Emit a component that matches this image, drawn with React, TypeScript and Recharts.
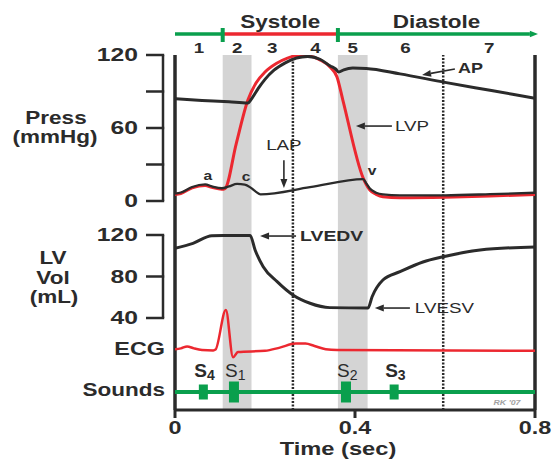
import React from 'react';
import {
  ComposedChart,
  Line,
  Scatter,
  XAxis,
  YAxis,
  ReferenceArea,
  ReferenceLine,
  ReferenceDot,
} from 'recharts';

// one cardiac cycle, time in seconds
const aorticPressure: [number, number][] = [
  [0, 84], [0.06, 82.7], [0.12, 81.5], [0.162, 80.5], [0.172, 85], [0.185, 92.5], [0.2, 100],
  [0.22, 107.5], [0.245, 113.5], [0.27, 117.5], [0.295, 118.8], [0.322, 116.5], [0.345, 111],
  [0.357, 108.5], [0.364, 106], [0.375, 107.8], [0.395, 109.3], [0.425, 109], [0.5, 104.5],
  [0.6, 97.5], [0.7, 91], [0.8, 84.5],
];
const ventricularPressure: [number, number][] = [
  [0, 5.3], [0.013, 6.2], [0.038, 10.8], [0.067, 12.8], [0.082, 11.2], [0.104, 9.6], [0.111, 10.2],
  [0.136, 47], [0.162, 83], [0.18, 97], [0.2, 106], [0.225, 113], [0.25, 117.5], [0.275, 119.5],
  [0.3, 119], [0.322, 116], [0.345, 110], [0.36, 102], [0.373, 83], [0.418, 19], [0.425, 13.5],
  [0.433, 9], [0.447, 5.5], [0.462, 3.5], [0.5, 2.7], [0.6, 3.1], [0.7, 4.1], [0.8, 5.4],
];
const atrialPressure: [number, number][] = [
  [0, 6], [0.013, 7], [0.038, 11.5], [0.067, 13.6], [0.082, 12], [0.104, 10.5], [0.12, 12],
  [0.138, 14], [0.155, 13.5], [0.168, 11], [0.18, 7.5], [0.19, 5.5], [0.3, 11.4], [0.418, 18],
  [0.425, 14.5], [0.433, 10.2], [0.447, 6.8], [0.462, 5.4], [0.5, 4.6], [0.6, 4.7], [0.7, 5.6],
  [0.8, 6.8],
];
const ventricularVolume: [number, number][] = [
  [0, 107.3], [0.04, 112], [0.082, 119.3], [0.107, 119.5], [0.167, 119.5], [0.178, 105.5],
  [0.196, 89.5], [0.227, 75], [0.262, 62.2], [0.3, 54.2], [0.344, 50], [0.429, 49.6],
  [0.438, 60.5], [0.462, 76.6], [0.5, 84.6], [0.551, 94], [0.596, 99], [0.678, 105.5], [0.8, 108.5],
];
const ecgTrace: [number, number][] = [
  [0, 0.02], [0.013, 0.04], [0.027, 0.09], [0.042, 0.04], [0.06, 0], [0.085, -0.01], [0.09, 0.01],
  [0.113, 1], [0.129, -0.18], [0.14, -0.05], [0.2, -0.02], [0.233, 0.06], [0.268, 0.16],
  [0.29, 0.16], [0.31, 0.1], [0.335, 0.02], [0.36, 0], [0.8, -0.02],
];
const heartSounds = [
  { sub: '4', t: 0.063, strong: false },
  { sub: '1', t: 0.131, strong: true },
  { sub: '2', t: 0.38, strong: true },
  { sub: '3', t: 0.487, strong: false },
];

const phaseEdges = [0, 0.106, 0.17, 0.262, 0.362, 0.428, 0.596, 0.8];
const phaseNames = ['1', '2', '3', '4', '5', '6', '7'];
const shadedPhases = [1, 4];
const dottedEdges = [3, 6];
const timeTicks = [0, 0.4, 0.8];
const pressureTicks = [0, 30, 60, 90, 120];
const pressureLabels = [0, 60, 120];
const volumeTicks = [40, 80, 120];

const INK = '#2b2b2b';
const RED = '#ec2830';
const GREEN = '#0a9f4d';
const SHADE = '#d4d4d4';
const FONT = '"Liberation Sans", Arial, sans-serif';

const W = 554;
const H = 459;
const TOP = 55;
const BOTTOM = 410;
const LEFT = 175;
const RIGHT = 535;
const T_MAX = 0.8;

// domain for a hidden axis so that v0 sits at pixel y0 and v1 at pixel y1
function span(v0: number, y0: number, v1: number, y1: number): [number, number] {
  const k = (y0 - y1) / (v1 - v0);
  return [v0 - (BOTTOM - y0) / k, v0 + (y0 - TOP) / k];
}
// page x (for things in the margins) expressed on the time axis
const tx = (x: number) => ((x - LEFT) / (RIGHT - LEFT)) * T_MAX;

const pts = (a: [number, number][]) => a.map(([t, v]) => ({ t, v }));

function Txt({ x, y, text, size = 16, weight = 700, anchor = 'middle', fill = INK, sx = 1.25, italic = false }: any) {
  return (
    <g transform={`translate(${x},${y}) scale(${sx},1)`}>
      <text
        textAnchor={anchor}
        dominantBaseline="central"
        fontSize={size}
        fontWeight={weight}
        fontStyle={italic ? 'italic' : 'normal'}
        fill={fill}
        fontFamily={FONT}
      >
        {text}
      </text>
    </g>
  );
}

function note(key: string, x: number, y: number, yAxisId: string, text: string, style: any = {}) {
  return (
    <ReferenceDot
      key={key}
      x={x}
      y={y}
      yAxisId={yAxisId}
      r={0}
      ifOverflow="visible"
      shape={(p: any) => <Txt x={p.cx} y={p.cy} text={text} {...style} />}
    />
  );
}

function arrowShape(color: string, width: number, head: number) {
  return (p: any) => {
    const { x1, y1, x2, y2 } = p;
    const a = Math.atan2(y2 - y1, x2 - x1);
    const len = head * 1.8;
    const bx = x2 - len * Math.cos(a);
    const by = y2 - len * Math.sin(a);
    const nx = -Math.sin(a) * head * 0.7;
    const ny = Math.cos(a) * head * 0.7;
    return (
      <g>
        <line x1={x1} y1={y1} x2={bx} y2={by} stroke={color} strokeWidth={width} />
        <polygon points={`${x2},${y2} ${bx + nx},${by + ny} ${bx - nx},${by - ny}`} fill={color} />
      </g>
    );
  };
}

function pointer(key: string, from: [number, number], to: [number, number], yAxisId: string) {
  return (
    <ReferenceLine
      key={key}
      yAxisId={yAxisId}
      segment={[{ x: from[0], y: from[1] }, { x: to[0], y: to[1] }]}
      ifOverflow="visible"
      shape={arrowShape(INK, 1.6, 5)}
    />
  );
}

function SoundMark(p: any) {
  const s = p.payload;
  const h = s.strong ? 21 : 15;
  const w = s.strong ? 10 : 9;
  return (
    <g>
      <rect x={p.cx - w / 2} y={p.cy - h / 2} width={w} height={h} fill={GREEN} />
      <text
        x={p.cx - 9}
        y={p.cy - 15}
        fontSize={19}
        fontWeight={s.strong ? 400 : 700}
        fill={INK}
        fontFamily={FONT}
      >
        S
        <tspan dy={3} fontSize={14}>
          {s.sub}
        </tspan>
      </text>
    </g>
  );
}

export default function App() {
  const systole = [phaseEdges[1], phaseEdges[4]];
  const bracket = (axis: string, ticks: number[]) => [
    <ReferenceLine
      key={`${axis}-spine`}
      yAxisId={axis}
      segment={[{ x: tx(163), y: ticks[0] }, { x: tx(163), y: ticks[ticks.length - 1] }]}
      ifOverflow="visible"
      stroke={INK}
      strokeWidth={2.5}
    />,
    ...ticks.map((v) => (
      <ReferenceLine
        key={`${axis}-tick-${v}`}
        yAxisId={axis}
        segment={[{ x: tx(146), y: v }, { x: tx(164.2), y: v }]}
        ifOverflow="visible"
        stroke={INK}
        strokeWidth={2.5}
      />
    )),
  ];

  return (
    <div style={{ position: 'absolute', left: 0, top: 0 }}>
      <ComposedChart
        width={W}
        height={H}
        margin={{ top: TOP, right: W - RIGHT, bottom: 0, left: LEFT }}
      >
        <XAxis
          dataKey="t"
          type="number"
          domain={[0, T_MAX]}
          ticks={timeTicks}
          allowDataOverflow
          height={H - BOTTOM}
          tickSize={8}
          tickMargin={0}
          axisLine={{ stroke: INK, strokeWidth: 3 }}
          tickLine={{ stroke: INK, strokeWidth: 3 }}
          tick={(p: any) => (
            <Txt x={p.x} y={p.y + 10} text={String(p.payload.value)} size={18} sx={1.3} />
          )}
        />
        <YAxis yAxisId="p" type="number" domain={span(0, 201, 120, 55)} allowDataOverflow hide />
        <YAxis yAxisId="vol" type="number" domain={span(40, 318, 120, 235)} allowDataOverflow hide />
        <YAxis yAxisId="ecg" type="number" domain={span(0, 350, 1, 310)} allowDataOverflow hide />
        <YAxis yAxisId="snd" dataKey="v" type="number" domain={span(0, 392, 1, 382)} allowDataOverflow hide />
        <YAxis yAxisId="row" type="number" domain={[TOP, BOTTOM]} reversed allowDataOverflow hide />

        {shadedPhases.map((i) => (
          <ReferenceArea
            key={`shade-${i}`}
            yAxisId="p"
            x1={phaseEdges[i]}
            x2={phaseEdges[i + 1]}
            fill={SHADE}
            fillOpacity={1}
            stroke="none"
            ifOverflow="visible"
          />
        ))}
        {dottedEdges.map((i) => (
          <ReferenceLine
            key={`dot-${i}`}
            yAxisId="p"
            x={phaseEdges[i]}
            stroke={INK}
            strokeWidth={2.5}
            strokeDasharray="2 1.5"
          />
        ))}
        <ReferenceLine yAxisId="p" x={0} stroke={INK} strokeWidth={3.5} />
        <ReferenceLine yAxisId="p" x={T_MAX} stroke={INK} strokeWidth={3.5} />

        {/* phase bar */}
        <ReferenceLine
          yAxisId="row"
          segment={[{ x: 0, y: 34 }, { x: systole[0], y: 34 }]}
          ifOverflow="visible"
          stroke={GREEN}
          strokeWidth={3.5}
        />
        <ReferenceLine
          yAxisId="row"
          segment={[{ x: systole[0], y: 34 }, { x: systole[1], y: 34 }]}
          ifOverflow="visible"
          stroke={RED}
          strokeWidth={3.5}
        />
        <ReferenceLine
          yAxisId="row"
          segment={[{ x: systole[1], y: 34 }, { x: tx(538), y: 34 }]}
          ifOverflow="visible"
          shape={arrowShape(GREEN, 3.5, 4.5)}
        />
        {systole.map((t) => (
          <ReferenceLine
            key={`sys-${t}`}
            yAxisId="row"
            segment={[{ x: t, y: 28 }, { x: t, y: 42 }]}
            ifOverflow="visible"
            stroke={GREEN}
            strokeWidth={4}
          />
        ))}
        {note('systole', (systole[0] + systole[1]) / 2, 22, 'row', 'Systole', { size: 18 })}
        {note('diastole', (systole[1] + phaseEdges[7]) / 2, 22, 'row', 'Diastole', { size: 18 })}
        {phaseNames.map((n, i) =>
          note(`ph-${n}`, (phaseEdges[i] + phaseEdges[i + 1]) / 2, 48, 'row', n, { size: 15 })
        )}

        {/* axes on the left */}
        {bracket('p', pressureTicks)}
        {bracket('vol', volumeTicks)}
        {pressureLabels.map((v) =>
          note(`pl-${v}`, tx(138), v, 'p', String(v), { size: 19, anchor: 'end', sx: 1.3 })
        )}
        {volumeTicks.map((v) =>
          note(`vl-${v}`, tx(138), v, 'vol', String(v), { size: 19, anchor: 'end', sx: 1.3 })
        )}
        {note('press', tx(56), 118, 'row', 'Press', { size: 18 })}
        {note('mmhg', tx(55), 137, 'row', '(mmHg)', { size: 18 })}
        {note('lv', tx(53), 258, 'row', 'LV', { size: 18 })}
        {note('vol', tx(53), 277.5, 'row', 'Vol', { size: 18 })}
        {note('ml', tx(54), 296.5, 'row', '(mL)', { size: 18 })}
        {note('ecg', tx(165), 349, 'row', 'ECG', { size: 18, anchor: 'end', sx: 1.3 })}
        {note('sounds', tx(165), 390, 'row', 'Sounds', { size: 18, anchor: 'end' })}
        {note('time', tx(338), 448.5, 'row', 'Time (sec)', { size: 18.5, sx: 1.28 })}
        {note('rk', tx(507), 402, 'row', "RK '07", { size: 8, fill: '#a3a3a3', italic: true, sx: 1.1 })}

        {/* sounds */}
        <ReferenceLine yAxisId="snd" y={0} stroke={GREEN} strokeWidth={4} />
        <Scatter
          yAxisId="snd"
          data={heartSounds.map((s) => ({ ...s, v: 0 }))}
          dataKey="v"
          shape={SoundMark}
          isAnimationActive={false}
        />

        {/* traces */}
        <Line
          yAxisId="p"
          data={pts(ventricularPressure)}
          dataKey="v"
          type="monotone"
          stroke={RED}
          strokeWidth={3}
          dot={false}
          activeDot={false}
          isAnimationActive={false}
        />
        <Line
          yAxisId="p"
          data={pts(atrialPressure)}
          dataKey="v"
          type="monotone"
          stroke={INK}
          strokeWidth={2.3}
          dot={false}
          activeDot={false}
          isAnimationActive={false}
        />
        <Line
          yAxisId="p"
          data={pts(aorticPressure)}
          dataKey="v"
          type="monotone"
          stroke={INK}
          strokeWidth={3}
          dot={false}
          activeDot={false}
          isAnimationActive={false}
        />
        <Line
          yAxisId="vol"
          data={pts(ventricularVolume)}
          dataKey="v"
          type="monotone"
          stroke={INK}
          strokeWidth={3}
          dot={false}
          activeDot={false}
          isAnimationActive={false}
        />
        <Line
          yAxisId="ecg"
          data={pts(ecgTrace)}
          dataKey="v"
          type="monotone"
          stroke={RED}
          strokeWidth={2.5}
          dot={false}
          activeDot={false}
          isAnimationActive={false}
        />

        {/* curve labels */}
        {pointer('ap-ar', [0.622, 108.5], [0.549, 103.6], 'p')}
        {note('ap', 0.629, 109.3, 'p', 'AP', { size: 15, anchor: 'start', sx: 1.2 })}
        {pointer('lvp-ar', [0.482, 61.6], [0.402, 61.6], 'p')}
        {note('lvp', 0.489, 61.6, 'p', 'LVP', { size: 15, weight: 400, anchor: 'start' })}
        {pointer('lap-ar', [0.242, 33.5], [0.242, 10.7], 'p')}
        {note('lap', 0.242, 46, 'p', 'LAP', { size: 15, weight: 400 })}
        {note('a', 0.073, 21, 'p', 'a', { size: 13, sx: 1.2 })}
        {note('c', 0.158, 20, 'p', 'c', { size: 13, sx: 1.2 })}
        {note('v', 0.438, 25.5, 'p', 'v', { size: 13, sx: 1.2 })}
        {pointer('edv-ar', [0.269, 119], [0.189, 119], 'vol')}
        {note('edv', 0.278, 119, 'vol', 'LVEDV', { size: 15.5, anchor: 'start' })}
        {pointer('esv-ar', [0.522, 49.6], [0.444, 49.6], 'vol')}
        {note('esv', 0.533, 49.6, 'vol', 'LVESV', { size: 15, weight: 400, anchor: 'start' })}
      </ComposedChart>
    </div>
  );
}
